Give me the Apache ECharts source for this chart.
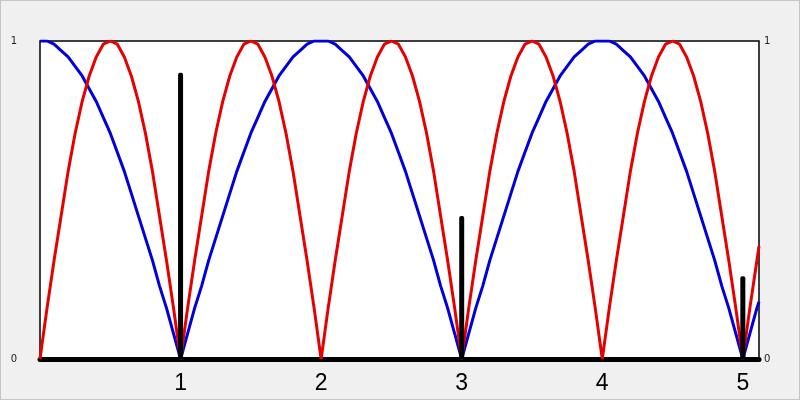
<!DOCTYPE html>
<html><head><meta charset="utf-8">
<script src="https://cdn.jsdelivr.net/npm/echarts@6/dist/echarts.min.js"></script>
<style>
html,body{margin:0;padding:0;background:#f0f0f0;}
#c{width:800px;height:400px;box-sizing:border-box;border:1px solid #c4c4c4;}
</style></head><body>
<div id="c"></div>
<script>
// sample positions along x (step 0.05 up to 5.10, then the right edge 5.115)
const xStep = 0.05;
const xEnd = 5.115;
// red curve values
const redVals = [
0,0.16,0.31,0.45,0.59,0.71,0.81,0.89,0.95,0.99,1,0.99,0.95,0.89,0.81,0.71,0.59,0.45,0.31,0.16,
0,0.16,0.31,0.45,0.59,0.71,0.81,0.89,0.95,0.99,1,0.99,0.95,0.89,0.81,0.71,0.59,0.45,0.31,0.16,
0,0.16,0.31,0.45,0.59,0.71,0.81,0.89,0.95,0.99,1,0.99,0.95,0.89,0.81,0.71,0.59,0.45,0.31,0.16,
0,0.16,0.31,0.45,0.59,0.71,0.81,0.89,0.95,0.99,1,0.99,0.95,0.89,0.81,0.71,0.59,0.45,0.31,0.16,
0,0.16,0.31,0.45,0.59,0.71,0.81,0.89,0.95,0.99,1,0.99,0.95,0.89,0.81,0.71,0.59,0.45,0.31,0.16,
0,0.16,0.31,0.355
];
// blue curve values
const blueVals = [
1,1,0.99,0.97,0.95,0.92,0.89,0.85,0.81,0.76,0.71,0.65,0.59,0.52,0.45,0.38,0.31,0.23,0.16,0.08,
0,0.08,0.16,0.23,0.31,0.38,0.45,0.52,0.59,0.65,0.71,0.76,0.81,0.85,0.89,0.92,0.95,0.97,0.99,1,
1,1,0.99,0.97,0.95,0.92,0.89,0.85,0.81,0.76,0.71,0.65,0.59,0.52,0.45,0.38,0.31,0.23,0.16,0.08,
0,0.08,0.16,0.23,0.31,0.38,0.45,0.52,0.59,0.65,0.71,0.76,0.81,0.85,0.89,0.92,0.95,0.97,0.99,1,
1,1,0.99,0.97,0.95,0.92,0.89,0.85,0.81,0.76,0.71,0.65,0.59,0.52,0.45,0.38,0.31,0.23,0.16,0.08,
0,0.08,0.16,0.18
];
// black spikes
const spikeX = [1,3,5];
const spikeVals = [0.9,0.45,0.26];
const xTickLabels = ['1','2','3','4','5'];
const yTickLabels = ['0','1'];

const xs = redVals.map((_, i) => i === redVals.length - 1 ? xEnd : +(i * xStep).toFixed(3));
const redData = xs.map((x, i) => [x, redVals[i]]);
const blueData = xs.map((x, i) => [x, blueVals[i]]);
const spikeData = spikeX.map((x, i) => [x, spikeVals[i]]);

const chart = echarts.init(document.getElementById('c'), null, {renderer:'canvas'});
const yAxisBase = {
  type:'value', min:0, max:1, interval:1,
  splitLine:{show:false}, axisTick:{show:false},
  axisLine:{show:false},
  axisLabel:{fontSize:10, color:'#222', fontFamily:'DejaVu Sans',
    formatter:v => yTickLabels[Math.round(v)]}
};
chart.setOption({
  animation:false,
  backgroundColor:'#f0f0f0',
  grid:{left:39, right:40, top:40, bottom:40, show:true, backgroundColor:'#ffffff', borderColor:'#000', borderWidth:1.5},
  xAxis:{
    type:'value', min:0, max:xEnd, interval:1,
    splitLine:{show:false}, axisTick:{show:false},
    axisLine:{show:true, onZero:false, lineStyle:{color:'#000', width:5}},
    axisLabel:{fontSize:23, color:'#000', margin:13, fontFamily:'Liberation Sans',
      showMaxLabel:false,
      formatter:v => { const k = Math.round(v); return (k >= 1 && k <= 5 && Math.abs(v-k)<1e-6) ? xTickLabels[k-1] : ''; }}
  },
  yAxis:[
    Object.assign({}, yAxisBase, {position:'left', axisLabel:Object.assign({}, yAxisBase.axisLabel, {margin:23})}),
    Object.assign({}, yAxisBase, {position:'right', axisLabel:Object.assign({}, yAxisBase.axisLabel, {margin:5})})
  ],
  series:[
    {type:'line', data:blueData, showSymbol:false, lineStyle:{color:'#0000dc', width:3}, z:3},
    {type:'line', data:redData, showSymbol:false, lineStyle:{color:'#e60000', width:3}, z:4},
    {type:'bar', data:spikeData, barWidth:5, itemStyle:{color:'#000', borderRadius:[2,2,0,0]}, z:5}
  ]
});
</script>
</body></html>
